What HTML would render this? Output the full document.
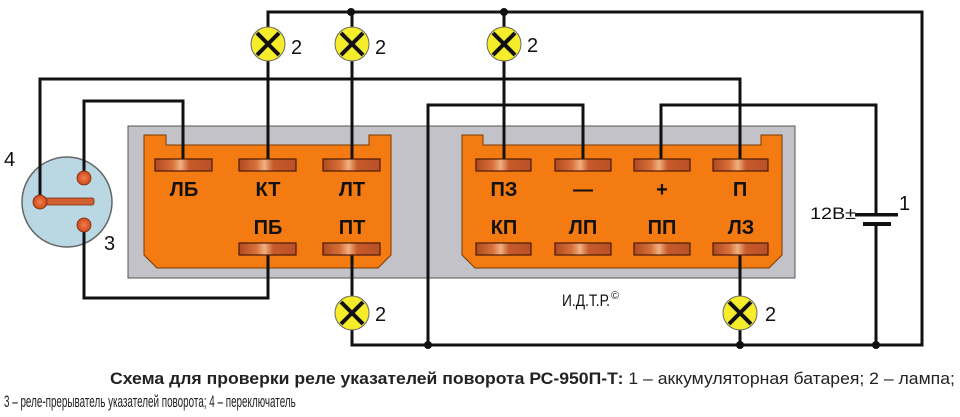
<!DOCTYPE html>
<html><head><meta charset="utf-8"><style>
html,body{margin:0;padding:0;background:#fff;width:960px;height:417px;overflow:hidden;position:relative}
svg{display:block}
text{font-family:"Liberation Sans",sans-serif}
.cap{position:absolute;left:4px;top:393px;font:17px/17px "Liberation Sans",sans-serif;color:#222;white-space:nowrap;transform:scaleX(0.58);transform-origin:0 0}
</style></head><body>
<svg width="960" height="417" viewBox="0 0 960 417" xmlns="http://www.w3.org/2000/svg">
<defs>
<linearGradient id="cu" x1="0" y1="0" x2="1" y2="0">
<stop offset="0" stop-color="#b04a20"/><stop offset="0.3" stop-color="#d8703a"/><stop offset="0.45" stop-color="#f0b080"/><stop offset="0.6" stop-color="#c85a2a"/><stop offset="1" stop-color="#b85028"/>
</linearGradient>
<radialGradient id="pn"><stop offset="0" stop-color="#f08050"/><stop offset="1" stop-color="#d04818"/></radialGradient>
</defs>
<rect x="128" y="126" width="667" height="152" fill="#c2c2c8" stroke="#555" stroke-width="1"/>
<path d="M144 135 H166 V145 H369 V135 H391 V255 L378 268 H157 L144 255 Z" fill="#f47a12" stroke="#7a3a00" stroke-width="1"/>
<path d="M462 135 H483 V145 H761 V135 H782 V255 L769 268 H475 L462 255 Z" fill="#f47a12" stroke="#7a3a00" stroke-width="1"/>
<g fill="none" stroke="#111" stroke-width="3">
<path d="M268 159 V12 H922 V345 H428 V105 H583 V159"/>
<path d="M352 159 V12"/>
<path d="M504 159 V12"/>
<path d="M40 202 V79 H740 V159"/>
<path d="M84 178 V101 H183 V159"/>
<path d="M661 159 V105 H876 V215"/>
<path d="M876 223 V345"/>
<path d="M268 255 V298 H84 V225"/>
<path d="M352 255 V345 H428"/>
<path d="M740 255 V345"/>
</g>
<g fill="#111">
<circle cx="351" cy="12" r="4"/><circle cx="504" cy="12" r="4"/>
<circle cx="428" cy="345" r="4"/><circle cx="740" cy="345" r="4"/><circle cx="876" cy="345" r="4"/>
</g>
<g fill="url(#cu)" stroke="#4a1a08" stroke-width="1.2">
<rect x="155" y="159" width="57" height="12"/><rect x="239" y="159" width="57" height="12"/><rect x="323" y="159" width="57" height="12"/>
<rect x="239" y="243" width="57" height="12"/><rect x="323" y="243" width="57" height="12"/>
<rect x="476" y="159" width="55" height="12"/><rect x="555" y="159" width="56" height="12"/><rect x="634" y="159" width="56" height="12"/><rect x="713" y="159" width="55" height="12"/>
<rect x="476" y="243" width="55" height="12"/><rect x="555" y="243" width="56" height="12"/><rect x="634" y="243" width="56" height="12"/><rect x="713" y="243" width="55" height="12"/>
</g>
<g font-weight="bold" font-size="20" fill="#111" text-anchor="middle">
<text x="184" y="196">ЛБ</text><text x="268" y="196">КТ</text><text x="352" y="196">ЛТ</text>
<text x="268" y="234">ПБ</text><text x="352" y="234">ПТ</text>
<text x="504" y="196">ПЗ</text><text x="583" y="196">—</text><text x="662" y="196">+</text><text x="740" y="196">П</text>
<text x="504" y="234">КП</text><text x="583" y="234">ЛП</text><text x="662" y="234">ПП</text><text x="741" y="234">ЛЗ</text>
</g>
<g>
<g transform="translate(268,44)"><circle r="17" fill="#f5ec2a" stroke="#666" stroke-width="1"/><path d="M-11 -11 L11 11 M11 -11 L-11 11" stroke="#111" stroke-width="4"/></g>
<g transform="translate(352,44)"><circle r="17" fill="#f5ec2a" stroke="#666" stroke-width="1"/><path d="M-11 -11 L11 11 M11 -11 L-11 11" stroke="#111" stroke-width="4"/></g>
<g transform="translate(504,44)"><circle r="17" fill="#f5ec2a" stroke="#666" stroke-width="1"/><path d="M-11 -11 L11 11 M11 -11 L-11 11" stroke="#111" stroke-width="4"/></g>
<g transform="translate(352,313)"><circle r="17" fill="#f5ec2a" stroke="#666" stroke-width="1"/><path d="M-11 -11 L11 11 M11 -11 L-11 11" stroke="#111" stroke-width="4"/></g>
<g transform="translate(740,313)"><circle r="17" fill="#f5ec2a" stroke="#666" stroke-width="1"/><path d="M-11 -11 L11 11 M11 -11 L-11 11" stroke="#111" stroke-width="4"/></g>
</g>
<g font-size="20" fill="#111">
<text x="291" y="54">2</text><text x="375" y="54">2</text><text x="527" y="52">2</text>
<text x="375" y="321">2</text><text x="765" y="321">2</text>
<text x="4" y="166">4</text><text x="104" y="250">3</text>
<text x="899" y="210">1</text>
</g>
<circle cx="67" cy="202" r="45" fill="#b9d8e4" stroke="#666" stroke-width="1.5"/>
<path d="M40 202 V79" stroke="#111" stroke-width="3"/>
<path d="M84 178 V140" stroke="#111" stroke-width="3"/>
<path d="M84 225 V260" stroke="#111" stroke-width="3"/>
<rect x="40" y="198" width="54" height="7" rx="2" fill="#d06030" stroke="#7a2a10" stroke-width="0.8"/>
<circle cx="40" cy="202" r="7" fill="url(#pn)" stroke="#7a2a10" stroke-width="0.8"/>
<circle cx="84" cy="178" r="7" fill="url(#pn)" stroke="#7a2a10" stroke-width="0.8"/>
<circle cx="84" cy="225" r="7" fill="url(#pn)" stroke="#7a2a10" stroke-width="0.8"/>
<rect x="855" y="213" width="43" height="3.5" fill="#111"/>
<rect x="863" y="222" width="28" height="4" fill="#111"/>
<text x="810" y="219" font-size="17" fill="#111" textLength="46" lengthAdjust="spacingAndGlyphs">12В±</text>
<text x="562" y="306" font-size="17" fill="#111" textLength="48" lengthAdjust="spacingAndGlyphs">И.Д.Т.Р.</text>
<text x="611" y="299" font-size="11" fill="#111">©</text>
<g transform="translate(110,384) scale(0.85,1)">
<text x="0" y="0" font-size="17" fill="#222" textLength="994" lengthAdjust="spacingAndGlyphs"><tspan font-weight="bold">Схема для проверки реле указателей поворота РС-950П-Т:</tspan> 1 – аккумуляторная батарея; 2 – лампа;</text>
</g>
</svg>
<div class="cap">3 – реле-прерыватель указателей поворота; 4 – переключатель</div>
</body></html>
